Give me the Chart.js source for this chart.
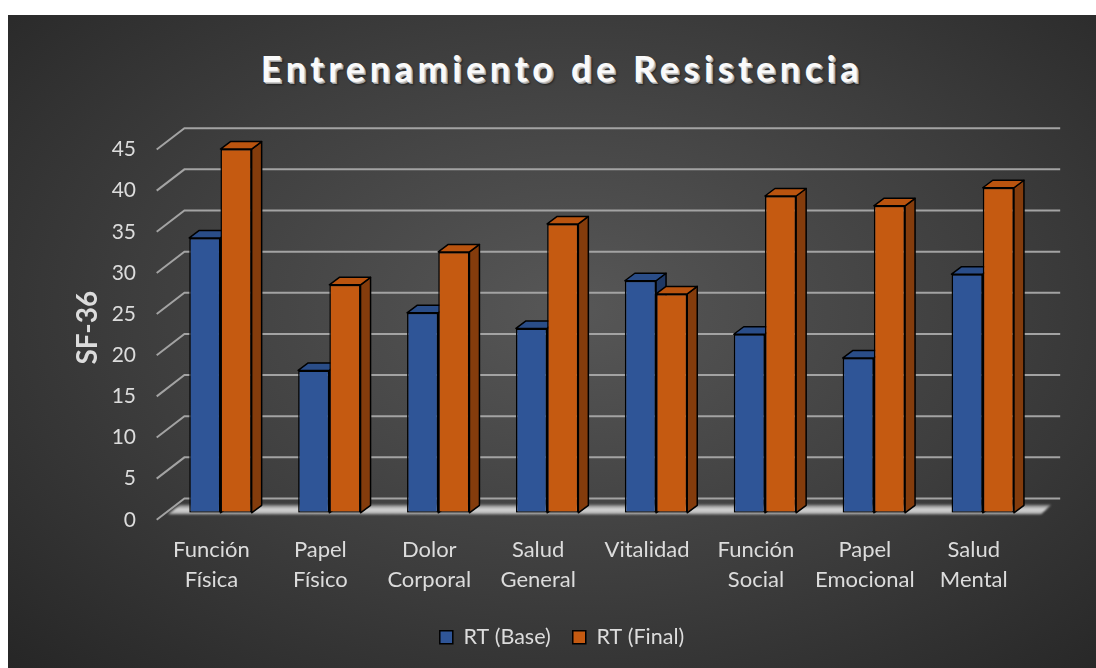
<!DOCTYPE html>
<html>
<head>
<meta charset="utf-8">
<script src="https://cdn.jsdelivr.net/npm/chart.js@4.4.0/dist/chart.umd.min.js"></script>
<style>
  html, body { margin: 0; padding: 0; background: #fff; }
  #wrap {
    position: absolute; left: 8px; top: 15px; width: 1088px; height: 653px;
    background: radial-gradient(ellipse at 52% 45%, #575757 0%, #3d3d3d 55%, #262626 100%);
  }
  #title {
    position: absolute; left: 20px; right: 0; top: 33px; margin: 0;
    text-align: center; font: bold 36px Lato, sans-serif; line-height: 40px;
    letter-spacing: 4.6px; color: #fafafa;
    text-shadow: 1px 1px 0 #c8c8c8, 2px 2px 0 #a0a0a0, 3px 3px 2px rgba(0,0,0,0.45);
  }
  canvas { position: absolute; left: 0; top: 0; }
</style>
</head>
<body>
<div id="wrap">
  <h1 id="title">Entrenamiento de Resistencia</h1>
  <canvas id="chart" width="1088" height="653"></canvas>
</div>
<script>
const categories = [
  ["Función", "Física"],
  ["Papel", "Físico"],
  ["Dolor", "Corporal"],
  ["Salud", "General"],
  "Vitalidad",
  ["Función", "Social"],
  ["Papel", "Emocional"],
  ["Salud", "Mental"],
];
const seriesNames = ["RT (Base)", "RT (Final)"];
const rtBase = [33.4, 17.3, 24.3, 22.4, 28.2, 21.7, 18.8, 29.0];
const rtFinal = [44.2, 27.7, 31.7, 35.1, 26.6, 38.5, 37.3, 39.5];
const yTicks = [0, 5, 10, 15, 20, 25, 30, 35, 40, 45];

const frontColors = ["#2F5597", "#C55A11"];
const topColors = ["#2A4D88", "#BA540F"];
const sideColors = ["#1F3864", "#843C0C"];
const textColor = "#dcdcdc";

// bar depth and wall depth offsets (px)
const BX = 10, BY = 7.5;
const WALL_FRONT = { dx: -9.3, dy: 7 };
const WALL_BACK = { dx: 18.4, dy: -14.3 };

function poly(ctx, pts) {
  ctx.beginPath();
  ctx.moveTo(pts[0][0], pts[0][1]);
  for (let i = 1; i < pts.length; i++) ctx.lineTo(pts[i][0], pts[i][1]);
  ctx.closePath();
  ctx.fill();
  ctx.stroke();
}

const depthPlugin = {
  id: "depth3d",
  beforeDatasetsDraw(chart) {
    const { ctx, chartArea } = chart;
    const yScale = chart.scales.y;
    ctx.save();

    // back wall grid + left wall diagonals
    ctx.strokeStyle = "#a3a3a3";
    ctx.lineWidth = 2;
    yTicks.forEach((v) => {
      const py = yScale.getPixelForValue(v);
      ctx.beginPath();
      ctx.moveTo(chartArea.left + WALL_FRONT.dx, py + WALL_FRONT.dy);
      ctx.lineTo(chartArea.left + WALL_BACK.dx, py + WALL_BACK.dy);
      ctx.lineTo(chartArea.right + 23, py + WALL_BACK.dy);
      ctx.stroke();
    });

    // floor
    const base = yScale.getPixelForValue(0);
    const g = ctx.createLinearGradient(0, base - 9, 0, base + 2);
    g.addColorStop(0, "rgba(150,150,150,0.6)");
    g.addColorStop(0.5, "rgba(225,225,225,0.95)");
    g.addColorStop(1, "rgba(190,190,190,0.8)");
    ctx.fillStyle = g;
    ctx.filter = "blur(1.2px)";
    ctx.beginPath();
    ctx.moveTo(chartArea.left + 2, base + 1.5);
    ctx.lineTo(chartArea.left + 14, base - 8);
    ctx.lineTo(chartArea.right + 14, base - 8);
    ctx.lineTo(chartArea.right + 4, base + 1.5);
    ctx.closePath();
    ctx.fill();
    ctx.filter = "none";

    // sides and tops of the bars
    ctx.strokeStyle = "#000";
    ctx.lineWidth = 1.5;
    ctx.lineJoin = "round";
    const metas = [0, 1].map((i) => chart.getDatasetMeta(i));
    categories.forEach((c, i) => {
      metas.forEach((meta, d) => {
        const bar = meta.data[i];
        const { x, y, width, base: b } = bar.getProps(["x", "y", "width", "base"], true);
        const l = x - width / 2, r = x + width / 2;
        ctx.fillStyle = sideColors[d];
        poly(ctx, [[r, y], [r + BX, y - BY], [r + BX, b - BY], [r, b]]);
        ctx.fillStyle = topColors[d];
        poly(ctx, [[l, y], [l + BX, y - BY], [r + BX, y - BY], [r, y]]);
      });
    });
    ctx.restore();
  },
};

const PAD_LEFT = 78.8;

new Chart(document.getElementById("chart"), {
  type: "bar",
  data: {
    labels: categories,
    datasets: [
      {
        label: seriesNames[0],
        data: rtBase,
        backgroundColor: frontColors[0],
        borderColor: "#000",
        borderWidth: 1.5,
        borderSkipped: false,
        barPercentage: 1,
        categoryPercentage: 0.573,
      },
      {
        label: seriesNames[1],
        data: rtFinal,
        backgroundColor: frontColors[1],
        borderColor: "#000",
        borderWidth: 1.5,
        borderSkipped: false,
        barPercentage: 1,
        categoryPercentage: 0.573,
      },
    ],
  },
  options: {
    responsive: false,
    animation: false,
    layout: { padding: { left: PAD_LEFT, top: 127.5, right: 58.8, bottom: 10 } },
    plugins: {
      title: { display: false },
      tooltip: { enabled: false },
      legend: {
        position: "bottom",
        labels: {
          boxWidth: 13,
          boxHeight: 13,
          padding: 22,
          color: textColor,
          font: { family: "Lato", size: 21.5 },
        },
      },
    },
    scales: {
      x: {
        grid: { display: false, drawTicks: false },
        border: { display: false },
        ticks: {
          color: textColor,
          font: { family: "Lato", size: 22, lineHeight: 1.36 },
          padding: 22,
          labelOffset: -9,
          maxRotation: 0,
          autoSkip: false,
        },
        afterFit(scale) { scale.height = 91.7; },
      },
      y: {
        min: 0,
        max: 45,
        grid: { display: false, drawTicks: false },
        border: { display: false },
        ticks: {
          stepSize: 5,
          color: textColor,
          font: { family: "Lato", size: 21 },
          padding: 30,
          labelOffset: 7,
        },
        title: {
          display: true,
          text: "SF-36",
          color: textColor,
          font: { family: "Lato", size: 28, weight: "bold", lineHeight: 1 },
          padding: { top: -12.8, bottom: 0 },
        },
        afterFit(scale) { scale.width = 158 - PAD_LEFT; },
      },
    },
  },
  plugins: [depthPlugin],
});
</script>
</body>
</html>
